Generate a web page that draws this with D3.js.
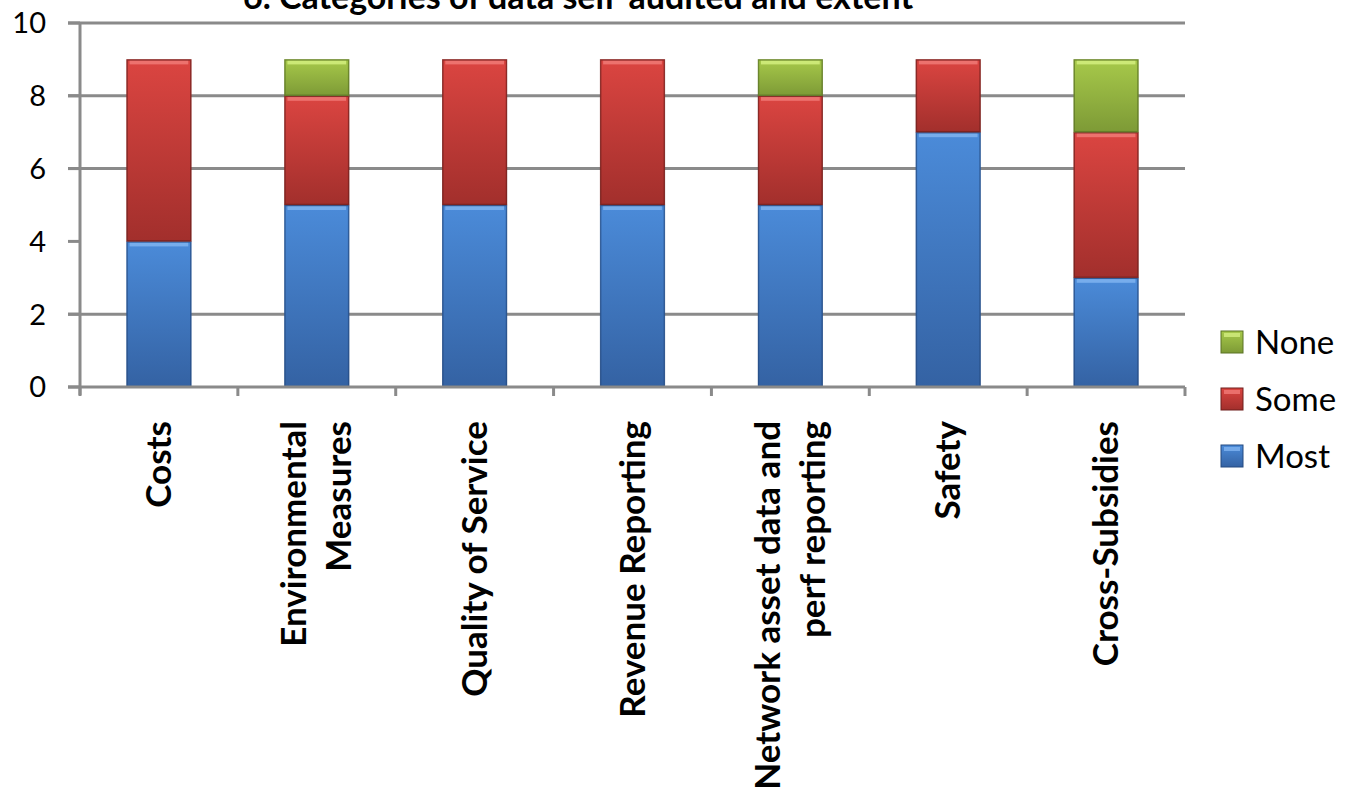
<!DOCTYPE html>
<html>
<head>
<meta charset="utf-8">
<script src="https://cdn.jsdelivr.net/npm/d3@7"></script>
<style>
  html, body { margin: 0; padding: 0; background: #fff; }
  svg { display: block; font-family: Lato, "Open Sans", sans-serif; }
</style>
</head>
<body>
<svg id="chart" width="1358" height="792"></svg>
<script>
// Categories and stacked counts per extent
const categories = [
  "Costs",
  "Environmental\nMeasures",
  "Quality of Service",
  "Revenue Reporting",
  "Network asset data and\nperf reporting",
  "Safety",
  "Cross-Subsidies"
];
const most = [4, 5, 5, 5, 5, 7, 3];
const some = [5, 3, 4, 4, 3, 2, 4];
const none = [0, 1, 0, 0, 1, 0, 2];
const seriesNames = ["Most", "Some", "None"];
const yTicks = [0, 2, 4, 6, 8, 10];
const gridTicks = [2, 6, 8, 10];
const title = "6. Categories of data self-audited and extent";

const svg = d3.select("#chart");
const margin = { left: 80, right: 173, top: 23, bottom: 405 };
const W = 1358, H = 792;
const x0 = margin.left, x1 = W - margin.right;
const yTop = margin.top, yBot = H - margin.bottom;

const x = d3.scaleBand().domain(categories).range([x0, x1]).paddingInner(0.59).paddingOuter(0.295);
const xb = d3.scaleBand().domain(categories).range([x0, x1]);
const y = d3.scaleLinear().domain([0, 10]).range([yBot, yTop]);

const colors = {
  Most: { top: "#4b8bd9", bot: "#3462a3", hi: "#7fb3f0", edge: "#254a80" },
  Some: { top: "#db4541", bot: "#a22f2c", hi: "#f07a77", edge: "#6e1f1d" },
  None: { top: "#a7c94a", bot: "#7d9a36", hi: "#d3ee7f", edge: "#5a7224" }
};

const defs = svg.append("defs");
seriesNames.forEach(s => {
  const g = defs.append("linearGradient").attr("id", "g-" + s)
    .attr("x1", 0).attr("y1", 0).attr("x2", 0).attr("y2", 1);
  g.append("stop").attr("offset", "0%").attr("stop-color", colors[s].top);
  g.append("stop").attr("offset", "100%").attr("stop-color", colors[s].bot);
});

// Title (runs off the top edge of the canvas)
svg.append("text")
  .attr("x", 578).attr("y", 9)
  .attr("text-anchor", "middle")
  .attr("font-weight", "bold")
  .attr("font-size", 34)
  .text(title);

// Gridlines
svg.append("g").selectAll("line").data(gridTicks).join("line")
  .attr("x1", x0 - 12).attr("x2", x1)
  .attr("y1", d => y(d)).attr("y2", d => y(d))
  .attr("stroke", "#8a8a8a").attr("stroke-width", 3);

// Stacked data
const table = categories.map((c, i) => ({ cat: c, Most: most[i], Some: some[i], None: none[i] }));
const stack = d3.stack().keys(seriesNames)(table);

const bw = x.bandwidth();
stack.forEach(layer => {
  const s = layer.key;
  const g = svg.append("g");
  layer.forEach(d => {
    if (d[1] - d[0] <= 0) return;
    const bx = x(d.data.cat), by = y(d[1]), bh = y(d[0]) - y(d[1]);
    g.append("rect").attr("x", bx).attr("y", by).attr("width", bw).attr("height", bh)
      .attr("fill", `url(#g-${s})`);
    // bevel highlight at top
    g.append("rect").attr("x", bx + 3).attr("y", by + 1).attr("width", bw - 6).attr("height", 4)
      .attr("fill", colors[s].hi).attr("opacity", 0.85);
    // darker edges
    g.append("rect").attr("x", bx + 0.5).attr("y", by + 0.5).attr("width", bw - 1).attr("height", bh - 1)
      .attr("fill", "none").attr("stroke", colors[s].edge).attr("stroke-width", 1.5).attr("opacity", 0.7);
  });
});

// Axis lines
svg.append("line").attr("x1", x0).attr("x2", x0).attr("y1", yTop).attr("y2", yBot + 8)
  .attr("stroke", "#8a8a8a").attr("stroke-width", 3);
svg.append("line").attr("x1", x0 - 12).attr("x2", x1).attr("y1", yBot).attr("y2", yBot)
  .attr("stroke", "#8a8a8a").attr("stroke-width", 3);

// Category separator ticks
const sepX = categories.map(c => xb(c)).concat([x1]);
svg.append("g").selectAll("line").data(sepX).join("line")
  .attr("x1", d => d).attr("x2", d => d).attr("y1", yBot).attr("y2", yBot + 9)
  .attr("stroke", "#8a8a8a").attr("stroke-width", 3);

// Y tick marks and labels
svg.append("g").selectAll("line").data(yTicks).join("line")
  .attr("x1", x0 - 12).attr("x2", x0).attr("y1", d => y(d)).attr("y2", d => y(d))
  .attr("stroke", "#8a8a8a").attr("stroke-width", 3);
svg.append("g").selectAll("text").data(yTicks).join("text")
  .attr("x", 46).attr("y", d => y(d)).attr("dy", "0.36em")
  .attr("text-anchor", "end").attr("font-size", 29)
  .text(d => d);

// Rotated category labels
categories.forEach(c => {
  const lines = c.split("\n");
  const cx = xb(c) + xb.bandwidth() / 2;
  const lh = 45;
  lines.forEach((ln, i) => {
    const off = (i - (lines.length - 1) / 2) * lh;
    svg.append("text")
      .attr("transform", `translate(${cx + off + 12},${421}) rotate(-90)`)
      .attr("text-anchor", "end")
      .attr("font-weight", "bold")
      .attr("font-size", 35)
      .text(ln);
  });
});

// Legend (None, Some, Most from top)
const legendItems = ["None", "Some", "Most"];
const lg = svg.append("g");
legendItems.forEach((s, i) => {
  const ly = 331 + i * 57;
  lg.append("rect").attr("x", 1221).attr("y", ly).attr("width", 22).attr("height", 22)
    .attr("fill", `url(#g-${s})`).attr("stroke", colors[s].edge).attr("stroke-width", 1);
  lg.append("rect").attr("x", 1224).attr("y", ly + 2).attr("width", 16).attr("height", 4)
    .attr("fill", colors[s].hi).attr("opacity", 0.8);
  lg.append("text").attr("x", 1255).attr("y", ly + 11).attr("dy", "0.36em")
    .attr("font-size", 33).text(s);
});
</script>
</body>
</html>
